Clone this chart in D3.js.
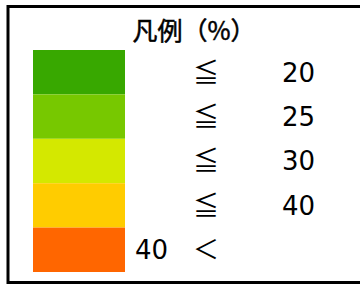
<!DOCTYPE html>
<html><head><meta charset="utf-8">
<script src="https://cdn.jsdelivr.net/npm/d3@7"></script>
<style>html,body{margin:0;padding:0;background:#fff;}</style>
</head><body>
<script>
const title = "凡例（%）";
const colors = ["#38a800", "#77c800", "#d4e800", "#ffcc00", "#ff6600"];
const leftLabels = ["", "", "", "", "40"];
const symbols = ["≦", "≦", "≦", "≦", "＜"];
const rightLabels = ["20", "25", "30", "40", ""];
const rows = d3.range(colors.length);

const W = 360, H = 284;
const svg = d3.select("body").append("svg").attr("width", W).attr("height", H);

svg.append("rect").attr("x", 8).attr("y", 6.5).attr("width", 400).attr("height", 276)
  .attr("fill", "#fff").attr("stroke", "#000").attr("stroke-width", 3);

svg.append("text").attr("x", 194).attr("y", 40).attr("text-anchor", "middle")
  .attr("font-family", "'Noto Sans CJK JP'").attr("font-size", 25).attr("font-weight", 400)
  .attr("fill", "#000").attr("stroke", "#000").attr("stroke-width", 0.5)
  .text(title);

const y = d3.scaleBand().domain(rows).range([50, 272]).padding(0);

svg.selectAll("rect.sw").data(rows).join("rect").attr("class", "sw")
  .attr("x", 33).attr("width", 92)
  .attr("y", d => y(d)).attr("height", y.bandwidth())
  .attr("fill", d => colors[d]);

const fontNum = "'DejaVu Sans'";
svg.selectAll("text.l").data(rows).join("text").attr("class", "l")
  .attr("x", 135).attr("y", d => y(d) + y.bandwidth() / 2)
  .attr("dy", "0.36em").attr("font-family", fontNum).attr("font-size", 26)
  .text(d => leftLabels[d]);

svg.selectAll("text.s").data(rows).join("text").attr("class", "s")
  .attr("x", 206).attr("y", d => y(d) + y.bandwidth() / 2)
  .attr("dy", "0.36em").attr("text-anchor", "middle")
  .attr("font-family", "'Noto Sans CJK JP'").attr("font-size", 26)
  .text(d => symbols[d]);

svg.selectAll("text.r").data(rows).join("text").attr("class", "r")
  .attr("x", 282).attr("y", d => y(d) + y.bandwidth() / 2)
  .attr("dy", "0.36em").attr("font-family", fontNum).attr("font-size", 26)
  .text(d => rightLabels[d]);
</script>
</body></html>
